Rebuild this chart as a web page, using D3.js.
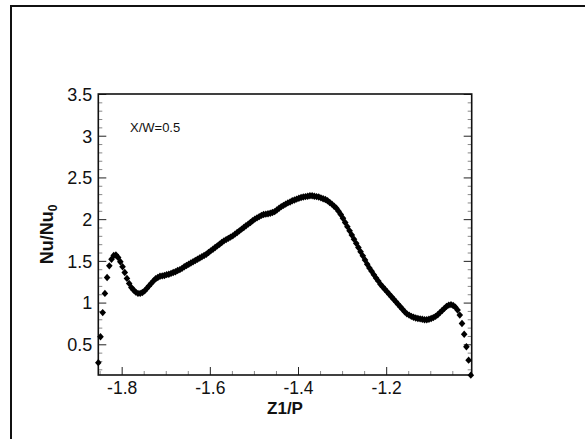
<!DOCTYPE html>
<html>
<head>
<meta charset="utf-8">
<script src="https://cdn.jsdelivr.net/npm/d3@7"></script>
<style>
html,body{margin:0;padding:0;background:#fff;}
svg{display:block;}
text{font-family:"Liberation Sans",Arial,sans-serif;}
</style>
</head>
<body>
<svg id="chart" width="585" height="439"></svg>
<script>
// ---- data ----
const zValues = [
-1.853,-1.848,-1.843,-1.838,-1.833,-1.828,-1.823,-1.818,-1.813,-1.808,
-1.803,-1.798,-1.793,-1.788,-1.783,-1.778,-1.773,-1.768,-1.763,-1.758,
-1.753,-1.748,-1.743,-1.738,-1.733,-1.728,-1.723,-1.718,-1.713,-1.708,
-1.703,-1.698,-1.693,-1.688,-1.683,-1.678,-1.673,-1.668,-1.663,-1.658,
-1.653,-1.648,-1.643,-1.638,-1.633,-1.628,-1.623,-1.618,-1.613,-1.608,
-1.603,-1.598,-1.593,-1.588,-1.583,-1.578,-1.573,-1.568,-1.563,-1.558,
-1.553,-1.548,-1.543,-1.538,-1.533,-1.528,-1.523,-1.518,-1.513,-1.508,
-1.503,-1.498,-1.493,-1.488,-1.483,-1.478,-1.473,-1.468,-1.463,-1.458,
-1.453,-1.448,-1.443,-1.438,-1.433,-1.428,-1.423,-1.418,-1.413,-1.408,
-1.403,-1.398,-1.393,-1.388,-1.383,-1.378,-1.373,-1.368,-1.363,-1.358,
-1.353,-1.348,-1.343,-1.338,-1.333,-1.328,-1.323,-1.318,-1.313,-1.308,
-1.303,-1.298,-1.293,-1.288,-1.283,-1.278,-1.273,-1.268,-1.263,-1.258,
-1.253,-1.248,-1.243,-1.238,-1.233,-1.228,-1.223,-1.218,-1.213,-1.208,
-1.203,-1.198,-1.193,-1.188,-1.183,-1.178,-1.173,-1.168,-1.163,-1.158,
-1.153,-1.148,-1.143,-1.138,-1.133,-1.128,-1.123,-1.118,-1.113,-1.108,
-1.103,-1.098,-1.093,-1.088,-1.083,-1.078,-1.073,-1.068,-1.063,-1.058,
-1.053,-1.048,-1.043,-1.038,-1.033,-1.028,-1.023,-1.018,-1.013,-1.008
];
const nuValues = [
0.28,0.59,0.88,1.11,1.30,1.44,1.52,1.565,1.57,1.54,
1.49,1.43,1.36,1.29,1.23,1.18,1.15,1.125,1.11,1.11,
1.12,1.14,1.17,1.20,1.23,1.26,1.285,1.30,1.315,1.32,
1.325,1.335,1.34,1.35,1.36,1.37,1.385,1.395,1.41,1.43,
1.445,1.46,1.475,1.49,1.505,1.52,1.535,1.55,1.565,1.58,
1.60,1.62,1.64,1.66,1.68,1.70,1.72,1.74,1.755,1.77,
1.785,1.80,1.82,1.84,1.86,1.88,1.90,1.92,1.94,1.96,
1.98,2.00,2.015,2.03,2.045,2.055,2.06,2.065,2.07,2.08,
2.09,2.11,2.13,2.15,2.165,2.18,2.195,2.205,2.22,2.23,
2.24,2.25,2.26,2.265,2.27,2.275,2.28,2.28,2.275,2.27,
2.265,2.255,2.245,2.235,2.22,2.20,2.18,2.155,2.13,2.095,
2.055,2.01,1.96,1.91,1.86,1.81,1.76,1.71,1.66,1.61,
1.56,1.51,1.46,1.415,1.375,1.335,1.295,1.26,1.22,1.19,
1.16,1.13,1.10,1.07,1.04,1.01,0.98,0.95,0.92,0.89,
0.865,0.85,0.835,0.825,0.815,0.81,0.805,0.80,0.795,0.795,
0.80,0.81,0.82,0.835,0.855,0.88,0.905,0.93,0.955,0.97,
0.975,0.965,0.945,0.91,0.85,0.75,0.62,0.47,0.31,0.13
];
const xMajorTicks = [-1.8, -1.6, -1.4, -1.2];
const xTickLabels = ["-1.8", "-1.6", "-1.4", "-1.2"];
const xMinorTicks = [-1.85,-1.75,-1.7,-1.65,-1.55,-1.5,-1.45,-1.35,-1.3,-1.25,-1.15,-1.1,-1.05];
const yMajorTicks = [0.5, 1, 1.5, 2, 2.5, 3, 3.5];
const yTickLabels = ["0.5", "1", "1.5", "2", "2.5", "3", "3.5"];
const yMinorTicks = [0.2,0.3,0.4,0.6,0.7,0.8,0.9,1.1,1.2,1.3,1.4,1.6,1.7,1.8,1.9,2.1,2.2,2.3,2.4,2.6,2.7,2.8,2.9,3.1,3.2,3.3,3.4];
const xDomain = [-1.853, -1.006];
const yDomain = [0.132, 3.5];
const annotation = "X/W=0.5";
const xTitle = "Z1/P";

// ---- layout ----
const L = 98.3, R = 471.7, T = 94, B = 375;
const svg = d3.select("#chart");
const x = d3.scaleLinear().domain(xDomain).range([L, R]);
const y = d3.scaleLinear().domain(yDomain).range([B, T]);

// outer frame
svg.append("rect").attr("x", 11).attr("y", 6).attr("width", 620).attr("height", 500)
  .attr("fill", "none").attr("stroke", "#111").attr("stroke-width", 2);

// ticks (inward)
function tickAxis(gen, transform, minor) {
  const g = svg.append("g").attr("transform", transform).call(gen);
  g.select(".domain").remove();
  g.selectAll(".tick line").attr("stroke", minor ? "#888" : "#222").attr("stroke-width", 1);
  return g;
}
// bottom
tickAxis(d3.axisTop(x).tickValues(xMinorTicks).tickSize(4).tickFormat(""), `translate(0,${B})`, true);
const gx = tickAxis(d3.axisTop(x).tickValues(xMajorTicks).tickSize(8).tickFormat((d,i)=>xTickLabels[i]), `translate(0,${B})`, false);
gx.selectAll(".tick text").attr("y", 19).attr("dy", "0").attr("font-size", 17.5).attr("fill", "#111")
  .attr("font-family", '"Liberation Sans", Arial, sans-serif');
// left
tickAxis(d3.axisRight(y).tickValues(yMinorTicks).tickSize(4).tickFormat(""), `translate(${L},0)`, true);
const gy = tickAxis(d3.axisRight(y).tickValues(yMajorTicks).tickSize(8).tickFormat((d,i)=>yTickLabels[i]), `translate(${L},0)`, false);
gy.selectAll(".tick text").attr("x", -6).attr("text-anchor", "end").attr("dy", "0.35em")
  .attr("font-size", 18).attr("fill", "#111").attr("font-family", '"Liberation Sans", Arial, sans-serif');
// right mirrored
tickAxis(d3.axisLeft(y).tickValues(yMinorTicks).tickSize(4).tickFormat(""), `translate(${R},0)`, true);
tickAxis(d3.axisLeft(y).tickValues(yMajorTicks).tickSize(8).tickFormat(""), `translate(${R},0)`, false);

// plot frame
svg.append("rect").attr("x", L).attr("y", T).attr("width", R - L).attr("height", B - T)
  .attr("fill", "none").attr("stroke", "#111").attr("stroke-width", 1.6);

// annotation
svg.append("text").attr("x", 130).attr("y", 131.5).attr("font-size", 13).attr("fill", "#111").text(annotation);

// axis titles
svg.append("text").attr("x", (L + R) / 2).attr("y", 414).attr("text-anchor", "middle")
  .attr("font-size", 17).attr("font-weight", "bold").attr("fill", "#111").text(xTitle);
const yt = svg.append("text").attr("transform", `translate(53,${(T + B) / 2}) rotate(-90)`)
  .attr("text-anchor", "middle").attr("font-size", 18).attr("font-weight", "bold").attr("fill", "#111");
yt.append("tspan").text("Nu/Nu");
yt.append("tspan").attr("font-size", 12).attr("dy", 4).text("0");

// markers: diamonds
const diamond = {
  draw(ctx, size) {
    const w = 3.3, h = 3.7;
    ctx.moveTo(0, -h); ctx.lineTo(w, 0); ctx.lineTo(0, h); ctx.lineTo(-w, 0); ctx.closePath();
  }
};
const data = zValues.map((z, i) => ({ z, v: nuValues[i] }));
svg.append("g").selectAll("path").data(data).join("path")
  .attr("transform", d => `translate(${x(d.z)},${y(d.v)})`)
  .attr("d", d3.symbol().type(diamond).size(40)())
  .attr("fill", "#000");
</script>
</body>
</html>
